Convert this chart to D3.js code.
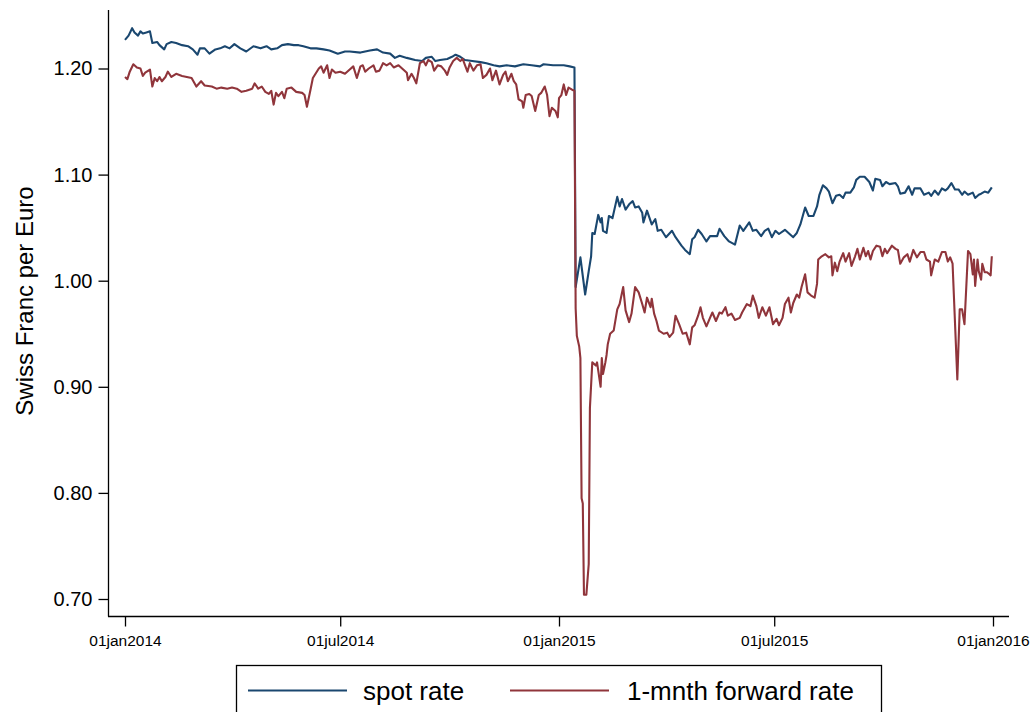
<!DOCTYPE html>
<html>
<head>
<meta charset="utf-8">
<script src="https://cdn.jsdelivr.net/npm/d3@7"></script>
<style>
  html, body { margin: 0; padding: 0; background: #fff; }
  svg { display: block; }
  text { font-family: "Liberation Sans", Arial, Helvetica, sans-serif; fill: #000; }
</style>
</head>
<body>
<svg id="chart" width="1036" height="712"></svg>
<script>
// ---- data: [days since 01jan2014, CHF per EUR] ----
const spotRate = [
[0,1.227],[3,1.231],[6,1.238],[8,1.234],[11,1.231],[13,1.235],[15,1.233],[18,1.234],[21,1.235],[23,1.224],
[27,1.225],[29,1.222],[33,1.218],[35,1.223],[39,1.225],[43,1.224],[48,1.222],[53,1.221],[57,1.218],[61,1.213],
[63,1.219],[67,1.219],[71,1.214],[76,1.218],[80,1.219],[84,1.221],[88,1.219],[92,1.223],[97,1.219],[102,1.216],
[108,1.221],[114,1.219],[119,1.221],[123,1.218],[128,1.219],[132,1.222],[137,1.223],[142,1.222],[146,1.222],[150,1.221],
[156,1.219],[161,1.219],[167,1.218],[172,1.217],[179,1.214],[185,1.216],[189,1.216],[198,1.215],[206,1.217],[212,1.218],
[217,1.215],[223,1.214],[227,1.210],[231,1.212],[237,1.210],[244,1.208],[250,1.207],[253,1.210],[258,1.211],[261,1.207],
[265,1.208],[271,1.209],[275,1.211],[278,1.213],[282,1.211],[286,1.208],[292,1.207],[299,1.206],[304,1.205],[310,1.203],
[315,1.202],[321,1.203],[328,1.202],[335,1.204],[342,1.203],[349,1.202],[352,1.204],[360,1.203],[369,1.203],[374,1.202],
[378,1.201],[379,0.994],[383,1.022],[387,0.987],[390,1.009],[392,1.023],[393,1.045],[395,1.044],[398,1.062],[400,1.055],
[401,1.059],[402,1.047],[405,1.045],[407,1.061],[410,1.059],[414,1.079],[416,1.070],[418,1.077],[421,1.067],[424,1.072],
[427,1.075],[429,1.069],[432,1.070],[435,1.064],[436,1.055],[439,1.066],[443,1.053],[446,1.058],[448,1.047],[451,1.048],
[455,1.041],[460,1.047],[463,1.041],[468,1.033],[471,1.029],[475,1.025],[477,1.039],[479,1.041],[482,1.048],[485,1.044],
[489,1.037],[492,1.042],[498,1.042],[500,1.049],[504,1.042],[508,1.037],[513,1.034],[517,1.052],[520,1.047],[525,1.055],
[528,1.047],[531,1.048],[535,1.042],[538,1.047],[541,1.049],[544,1.041],[547,1.047],[550,1.044],[555,1.048],[558,1.045],
[562,1.041],[565,1.045],[568,1.053],[572,1.069],[575,1.061],[579,1.061],[582,1.070],[584,1.081],[587,1.090],[590,1.087],
[592,1.084],[595,1.073],[598,1.080],[601,1.081],[604,1.078],[606,1.083],[610,1.083],[613,1.088],[615,1.095],[618,1.098],
[622,1.098],[626,1.093],[629,1.085],[631,1.096],[635,1.095],[637,1.089],[640,1.093],[643,1.091],[648,1.092],[650,1.089],
[652,1.082],[656,1.083],[659,1.089],[662,1.081],[664,1.087],[669,1.087],[672,1.081],[676,1.083],[678,1.080],[681,1.085],
[684,1.081],[687,1.087],[690,1.085],[692,1.087],[695,1.092],[698,1.086],[701,1.086],[704,1.081],[706,1.084],[709,1.081],
[713,1.083],[715,1.078],[718,1.081],[720,1.082],[723,1.084],[726,1.083],[729,1.088]
];

const forwardRate = [
[0,1.192],[2,1.190],[4,1.197],[7,1.204],[10,1.201],[13,1.200],[15,1.193],[17,1.196],[21,1.199],[23,1.183],
[25,1.191],[27,1.188],[29,1.192],[31,1.188],[34,1.192],[36,1.197],[39,1.192],[43,1.195],[48,1.193],[52,1.192],
[56,1.191],[60,1.183],[64,1.188],[67,1.184],[73,1.183],[77,1.181],[81,1.182],[86,1.181],[90,1.182],[94,1.181],
[98,1.178],[102,1.179],[107,1.181],[109,1.186],[112,1.181],[115,1.183],[118,1.178],[121,1.176],[123,1.179],[125,1.166],
[127,1.177],[129,1.174],[132,1.178],[134,1.172],[136,1.181],[140,1.182],[144,1.178],[149,1.177],[151,1.175],[153,1.164],
[156,1.180],[158,1.191],[163,1.200],[165,1.202],[167,1.196],[170,1.203],[172,1.191],[174,1.199],[177,1.196],[181,1.197],
[185,1.195],[189,1.199],[192,1.202],[195,1.191],[198,1.202],[200,1.203],[202,1.197],[205,1.200],[209,1.203],[211,1.197],
[214,1.198],[217,1.205],[220,1.203],[223,1.205],[226,1.201],[230,1.203],[234,1.199],[237,1.196],[238,1.189],[241,1.195],
[243,1.191],[245,1.186],[248,1.205],[251,1.207],[253,1.203],[255,1.208],[258,1.206],[260,1.198],[263,1.203],[266,1.202],
[269,1.198],[271,1.194],[273,1.201],[276,1.207],[279,1.210],[282,1.207],[284,1.209],[286,1.203],[288,1.197],[290,1.205],
[293,1.198],[296,1.203],[299,1.204],[301,1.191],[304,1.194],[307,1.200],[309,1.189],[312,1.198],[315,1.185],[318,1.194],
[320,1.197],[322,1.188],[325,1.195],[327,1.188],[329,1.185],[331,1.171],[334,1.169],[335,1.163],[337,1.175],[340,1.176],
[342,1.174],[345,1.160],[348,1.175],[350,1.177],[353,1.183],[355,1.175],[357,1.155],[359,1.163],[362,1.160],[364,1.154],
[365,1.172],[367,1.175],[369,1.185],[371,1.175],[373,1.182],[376,1.180],[378,1.179],[379,0.974],[380,0.948],[382,0.938],
[383,0.927],[384,0.795],[385,0.790],[386,0.704],[388,0.704],[390,0.733],[391,0.880],[393,0.923],[396,0.920],[397,0.923],
[400,0.900],[401,0.927],[402,0.912],[404,0.923],[405,0.930],[406,0.940],[408,0.950],[411,0.953],[414,0.973],[416,0.978],
[419,0.994],[421,0.972],[424,0.961],[426,0.969],[429,0.994],[432,0.989],[435,0.978],[437,0.970],[439,0.984],[442,0.975],
[443,0.983],[445,0.969],[447,0.962],[449,0.953],[453,0.950],[456,0.951],[458,0.947],[461,0.951],[463,0.967],[466,0.959],
[469,0.950],[472,0.951],[475,0.940],[477,0.956],[479,0.958],[482,0.967],[484,0.975],[486,0.965],[489,0.957],[492,0.965],
[494,0.970],[497,0.962],[500,0.970],[502,0.969],[505,0.975],[507,0.967],[510,0.969],[513,0.963],[517,0.965],[519,0.970],
[523,0.978],[526,0.976],[528,0.986],[531,0.976],[533,0.965],[536,0.975],[539,0.967],[542,0.975],[545,0.959],[548,0.964],
[550,0.958],[553,0.965],[555,0.978],[558,0.984],[560,0.970],[562,0.979],[565,0.987],[567,0.984],[569,0.994],[572,1.006],
[574,0.989],[577,0.986],[580,0.984],[582,0.997],[583,1.020],[586,1.023],[589,1.025],[592,1.022],[594,1.023],[595,1.005],
[597,1.017],[599,1.009],[601,1.018],[604,1.026],[606,1.018],[609,1.026],[611,1.014],[614,1.023],[616,1.030],[618,1.020],
[621,1.031],[623,1.023],[625,1.028],[627,1.020],[629,1.028],[632,1.033],[635,1.032],[637,1.023],[639,1.030],[641,1.026],
[645,1.033],[648,1.030],[650,1.029],[652,1.016],[655,1.022],[658,1.025],[660,1.018],[663,1.029],[666,1.022],[669,1.027],
[672,1.027],[674,1.020],[677,1.018],[678,1.005],[681,1.020],[684,1.018],[687,1.027],[690,1.027],[692,1.018],[694,1.022],
[696,1.016],[700,0.907],[702,0.973],[704,0.973],[706,0.959],[709,1.028],[711,1.025],[713,1.006],[714,1.020],[715,0.995],
[717,1.020],[718,1.009],[720,1.001],[721,1.016],[723,1.008],[725,1.008],[727,1.006],[728,1.005],[729,1.023]
];

const seriesNames = ["spot rate", "1-mnth forward rate"];
const seriesColors = ["#1a476f", "#90353b"];
const xTickDates = ["2014-01-01", "2014-07-01", "2015-01-01", "2015-07-01", "2016-01-01"];
const xTickLabels = ["01jan2014", "01jul2014", "01jan2015", "01jul2015", "01jan2016"];
const yTickValues = [0.70, 0.80, 0.90, 1.00, 1.10, 1.20];
const yTitle = "Swiss Franc per Euro";

// ---- drawing ----
const svg = d3.select("#chart");
const base = Date.UTC(2014, 0, 1);
const toDate = d => new Date(base + d * 86400000);

const plot = { left: 108, right: 1009, top: 10, bottom: 616 };

const x = d3.scaleUtc()
  .domain([new Date("2014-01-01T00:00:00Z"), new Date("2016-01-01T00:00:00Z")])
  .range([125, 993]);
const y = d3.scaleLinear()
  .domain([0.70, 1.20])
  .range([599, 68.5]);

// axis lines
svg.append("line")
  .attr("x1", plot.left + 0.5).attr("x2", plot.left + 0.5)
  .attr("y1", plot.top).attr("y2", plot.bottom + 0.5)
  .attr("stroke", "#000").attr("stroke-width", 1.3);
svg.append("line")
  .attr("x1", plot.left).attr("x2", plot.right)
  .attr("y1", plot.bottom + 0.5).attr("y2", plot.bottom + 0.5)
  .attr("stroke", "#000").attr("stroke-width", 1.3);

// y axis
const yAxis = d3.axisLeft(y)
  .tickValues(yTickValues)
  .tickSize(10)
  .tickPadding(6)
  .tickFormat(d3.format(".2f"));
const gy = svg.append("g")
  .attr("transform", `translate(${plot.left + 0.5},0)`)
  .call(yAxis);
gy.select(".domain").remove();
gy.selectAll(".tick line").attr("stroke", "#000").attr("stroke-width", 1.3);
gy.selectAll(".tick text")
  .style("font-family", '"Liberation Sans", Arial, sans-serif')
  .style("font-size", "20px").attr("fill", "#000");

// x axis
const xAxis = d3.axisBottom(x)
  .tickValues(xTickDates.map(s => new Date(s + "T00:00:00Z")))
  .tickSize(10)
  .tickPadding(8)
  .tickFormat((d, i) => xTickLabels[i]);
const gx = svg.append("g")
  .attr("transform", `translate(0,${plot.bottom + 0.5})`)
  .call(xAxis);
gx.select(".domain").remove();
gx.selectAll(".tick line").attr("stroke", "#000").attr("stroke-width", 1.3);
gx.selectAll(".tick text")
  .style("font-family", '"Liberation Sans", Arial, sans-serif')
  .style("font-size", "15.5px").attr("fill", "#000");

// y title
svg.append("text")
  .attr("transform", `translate(33,301) rotate(-90)`)
  .attr("text-anchor", "middle")
  .style("font-size", "24px")
  .text(yTitle);

// lines
const line = d3.line()
  .x(d => x(toDate(d[0])))
  .y(d => y(d[1]));

[spotRate, forwardRate].forEach((data, i) => {
  svg.append("path")
    .datum(data)
    .attr("fill", "none")
    .attr("stroke", seriesColors[i])
    .attr("stroke-width", 2.1)
    .attr("stroke-linejoin", "round")
    .attr("d", line);
});

// legend
const lg = svg.append("g");
lg.append("rect")
  .attr("x", 236.5).attr("y", 665.5)
  .attr("width", 645).attr("height", 70)
  .attr("fill", "#fff").attr("stroke", "#000").attr("stroke-width", 1.3);
const legendItems = [
  { lx1: 248, lx2: 347, tx: 363 },
  { lx1: 510, lx2: 609, tx: 627 }
];
legendItems.forEach((it, i) => {
  lg.append("line")
    .attr("x1", it.lx1).attr("x2", it.lx2)
    .attr("y1", 690.5).attr("y2", 690.5)
    .attr("stroke", seriesColors[i]).attr("stroke-width", 2.1);
  lg.append("text")
    .attr("x", it.tx).attr("y", 700)
    .style("font-size", "26px")
    .text(seriesNames[i]);
});
</script>
</body>
</html>
